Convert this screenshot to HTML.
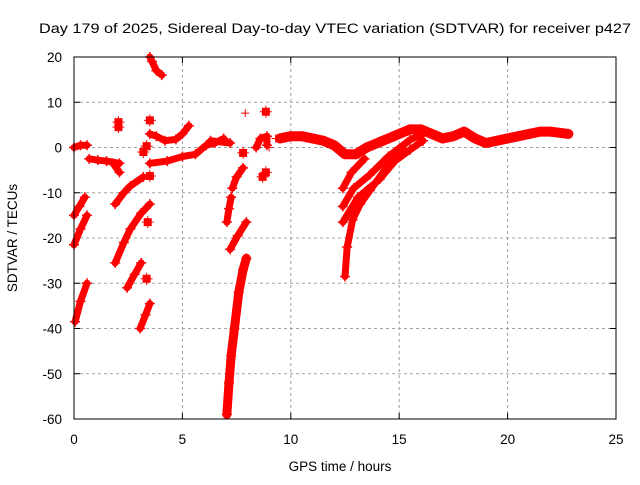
<!DOCTYPE html>
<html><head><meta charset="utf-8"><style>
body{margin:0;background:#fff;}
svg text{font-family:"Liberation Sans",sans-serif;font-size:13.5px;fill:#000;}
</style></head><body>
<svg id="chart" width="640" height="480" xmlns="http://www.w3.org/2000/svg">
<rect width="640" height="480" fill="#fff"/>
<text x="335" y="33" text-anchor="middle" textLength="592" lengthAdjust="spacingAndGlyphs">Day 179 of 2025, Sidereal Day-to-day VTEC variation (SDTVAR) for receiver p427</text>
<text x="340" y="471" text-anchor="middle">GPS time / hours</text>
<text transform="translate(17,238) rotate(-90)" text-anchor="middle">SDTVAR / TECUs</text>
<g id="grid"></g>
<g id="ticks"></g>
<g id="marks"></g>
<rect x="74" y="57" width="542" height="362" fill="none" stroke="#000" stroke-width="1"/>
</svg>
<script>
const xTicks=[0,5,10,15,20,25];
const yTicks=[20,10,0,-10,-20,-30,-40,-50,-60];
const track1=[[0.05,-38.5],[0.3,-34],[0.6,-30]];
const track2=[[0,-21.5],[0.3,-18],[0.6,-15]];
const track3=[[0,-15],[0.25,-13],[0.5,-11]];
const track4=[[0,0],[0.3,0.5],[0.6,0.5]];
const track5=[[0.7,-2.5],[1.1,-2.8],[1.5,-3],[2.1,-3.5]];
const track6=[[1.8,-3.5],[2.1,-5.5]];
const track7=[[1.9,-25.5],[2.3,-21],[2.6,-18],[3.1,-14.5],[3.5,-12.5]];
const track8=[[1.9,-12.5],[2.3,-10],[2.6,-8.5],[3.2,-6.5]];
const track9=[[2.45,-31],[2.8,-28],[3.1,-25.5]];
const track10=[[3.05,-40],[3.3,-37],[3.5,-34.5]];
const track11=[[3.5,20],[3.6,19],[3.8,17],[4.05,16]];
const track12=[[3.5,3],[3.8,2.5],[4.2,1.5],[4.7,1.8],[5.0,3],[5.3,4.8]];
const track13=[[3.5,-3.5],[4.3,-3],[5.0,-2],[5.6,-1.5],[6.1,0.5],[6.5,1],[6.9,2]];
const track14=[[6.3,1.5],[7.2,1]];
const track15=[[7.05,-59],[7.15,-52],[7.25,-46],[7.4,-40],[7.6,-32],[7.8,-27],[7.95,-24.5]];
const track16=[[7.2,-22.5],[7.55,-19.5],[7.95,-16.5]];
const track17=[[7.05,-16.5],[7.15,-13.5],[7.25,-11]];
const track18=[[7.3,-9],[7.5,-6.5],[7.8,-4.5]];
const track19=[[8.4,0],[8.6,2],[8.9,2.5],[8.9,0.5]];
const track20=[[9.5,2],[10,2.5],[10.5,2.5],[11,2],[11.5,1.5],[12,0.5],[12.5,-1.5],[13,-1.5],[13.5,0],[14,1],[14.5,2],[15,3],[15.5,4],[16,4],[16.5,3],[17,2],[17.5,2.5],[18,3.5],[18.5,2],[19,1],[19.5,1.5],[20,2],[20.5,2.5],[21,3],[21.5,3.5],[22,3.5],[22.8,3]];
const track21=[[12.4,-9],[12.8,-5.5],[13.4,-2.5]];
const track22=[[12.4,-13],[12.9,-9],[13.65,-6],[14.5,-2],[15.5,1.7],[16.1,3]];
const track23=[[12.4,-16.5],[13.1,-11],[14.1,-7],[14.8,-3],[15.5,-0.5],[16.1,1.5]];
const track24=[[12.5,-28.5],[12.6,-22],[12.85,-16],[13.2,-12.5],[13.65,-9.5],[14.4,-4.5],[15.2,-0.5]];
const blobs=[[3.4,-16.5],[3.35,-29],[3.5,-6.3],[3.5,6],[2.05,5.6],[2.05,4.5],[7.8,-1.2],[8.85,7.9],[8.85,-5.5],[8.7,-6.5],[3.2,-1],[3.35,0.3]];
const singles=[[7.9,7.6],[9.3,2],[9.0,0]];
const tracks=[track1,track2,track3,track4,track5,track6,track7,track8,track9,track10,track11,track12,track13,track14,track15,track16,track17,track18,track19,track20,track21,track22,track23,track24];

const X0=74,X1=616,Y0=419,Y1=57;
function sx(t){return X0+(t-0)/(25-0)*(X1-X0);}
function sy(v){return Y0-(v-(-60))/(20-(-60))*(Y0-Y1);}
const NS='http://www.w3.org/2000/svg';
function mk(tag,attrs,parent){const e=document.createElementNS(NS,tag);for(const k in attrs)e.setAttribute(k,attrs[k]);parent.appendChild(e);return e;}
const grid=document.getElementById('grid'),ticks=document.getElementById('ticks'),marks=document.getElementById('marks');
xTicks.forEach(t=>{
  const x=sx(t);
  if(t>0&&t<25){const g=mk('line',{x1:x,x2:x,y1:Y1,y2:Y0,stroke:'#a0a0a0','stroke-dasharray':'3,3'},grid);
  
  }
  mk('line',{x1:x,x2:x,y1:Y0,y2:Y0-6,stroke:'#000'},ticks);
  mk('line',{x1:x,x2:x,y1:Y1,y2:Y1+6,stroke:'#000'},ticks);
  const l=mk('text',{x:x,y:Y0+25,'text-anchor':'middle'},ticks);l.textContent=t;
  
  
});
yTicks.forEach(v=>{
  const y=sy(v);
  if(v>-60&&v<20){const g=mk('line',{x1:X0,x2:X1,y1:y,y2:y,stroke:'#a0a0a0','stroke-dasharray':'3,3'},grid);
  
  }
  mk('line',{x1:X0,x2:X0+6,y1:y,y2:y,stroke:'#000'},ticks);
  mk('line',{x1:X1,x2:X1-6,y1:y,y2:y,stroke:'#000'},ticks);
  const l=mk('text',{x:X0-12,y:y+5,'text-anchor':'end'},ticks);l.textContent=v;
  
  
});
function plus(x,y,s,w){mk('path',{d:`M${x-s},${y}H${x+s}M${x},${y-s}V${y+s}`,stroke:'#f00','stroke-width':w,fill:'none'},marks);}
tracks.forEach((tr,i)=>{
  const pts=tr.map(p=>sx(p[0])+','+sy(p[1])).join(' ');
  const w=(tr===track20)?10:(tr===track15?9:7);
  const pl=mk('polyline',{points:pts,fill:'none',stroke:'#f00','stroke-width':w,'stroke-linejoin':'round','stroke-linecap':'round'},marks);
  
  
  tr.forEach(p=>plus(sx(p[0]),sy(p[1]),5,1.5));
});
blobs.forEach(p=>{
  const r=mk('rect',{x:sx(p[0])-4,y:sy(p[1])-4,width:8,height:8,fill:'#f00'},marks);
  
  
  plus(sx(p[0]),sy(p[1]),6,1);
});
singles.forEach(p=>{plus(sx(p[0]),sy(p[1]),4,1);});
</script>
</body></html>
